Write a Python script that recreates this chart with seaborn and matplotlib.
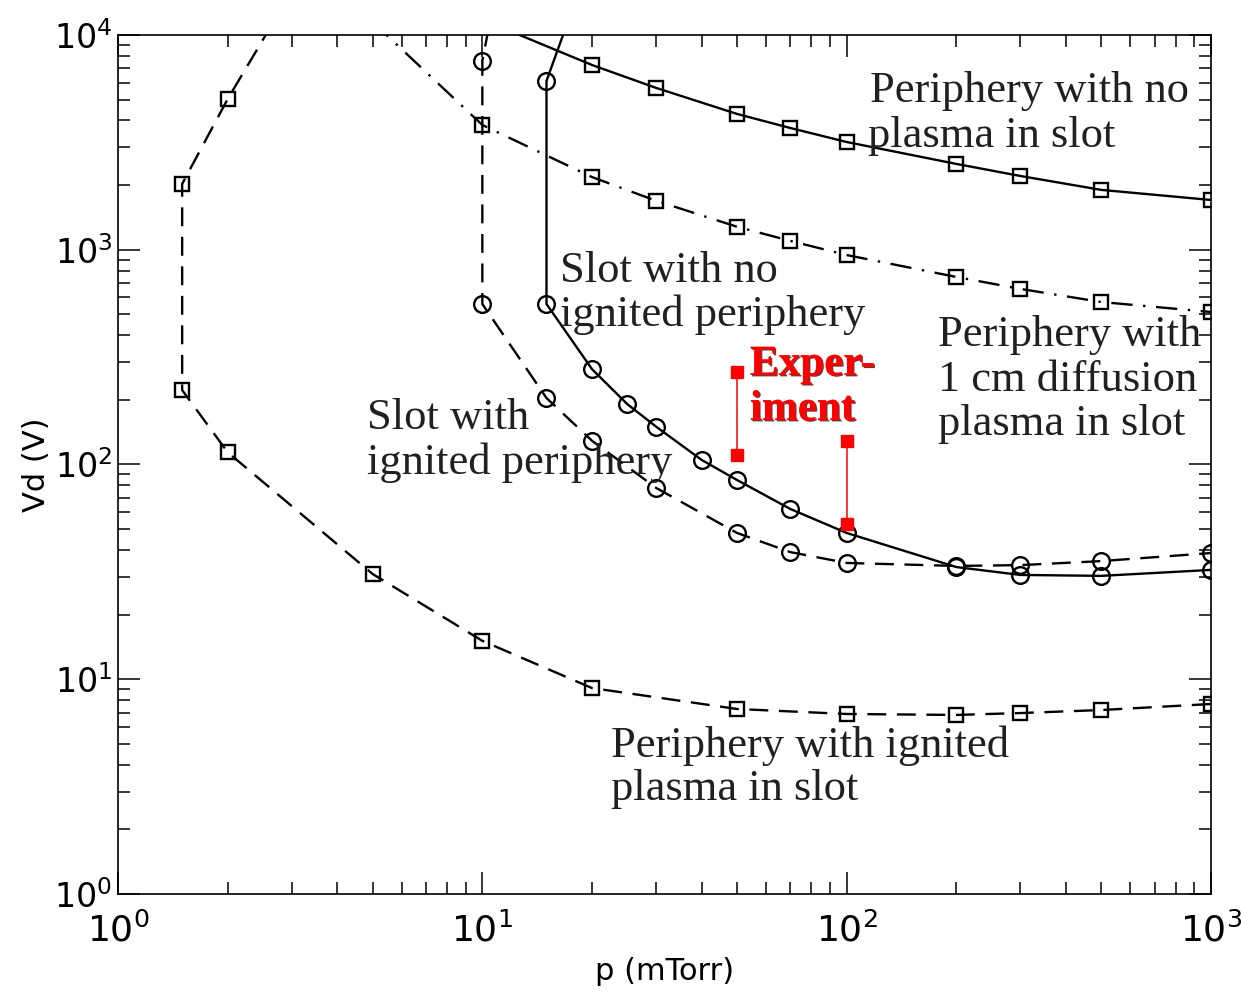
import numpy as np
import pandas as pd
import matplotlib
matplotlib.use("Agg")
import matplotlib.pyplot as plt
import matplotlib.patheffects as pe
import seaborn as sns

# ---------------- data ----------------
# Periphery with no plasma in slot (solid, squares)
p_noplasma = [10, 20, 30, 50, 70, 100, 200, 300, 500, 1000]
v_noplasma = [11800, 7250, 5670, 4290, 3690, 3175, 2510, 2205, 1900, 1705]

# Periphery with 1 cm diffusion plasma in slot (dash-dot, squares)
p_diff = [5, 10, 20, 30, 50, 70, 100, 200, 300, 500, 1000]
v_diff = [11500, 3810, 2180, 1690, 1280, 1100, 945, 747, 657, 571, 513]

# Periphery with ignited plasma in slot (dashed, squares)
p_ign = [3, 2, 1.5, 1.5, 2, 5, 10, 20, 50, 100, 200, 300, 500, 1000]
v_ign = [16000, 5035, 2025, 222, 114, 30.9, 15.1, 9.1, 7.27, 6.89, 6.82, 6.96, 7.19, 7.67]

# Slot with ignited periphery (dashed, circles)
p_slot_ign = [11, 10, 10, 15, 20, 30, 50, 70, 100, 200, 300, 500, 1000]
v_slot_ign = [17500, 7570, 559, 204, 129, 77.8, 48, 39.1, 34.8, 33.7, 34, 35.5, 38.7]

# Slot with no ignited periphery (solid, circles)
p_slot_no = [20, 15, 15, 20, 25, 30, 40, 50, 70, 100, 200, 300, 500, 1000]
v_slot_no = [23700, 6110, 559, 278, 191, 150, 105, 84.7, 62.1, 48.0, 33.3, 30.6, 30.3, 32.3]

# Experiment (red ranges)
p_exp = [50, 100]
v_exp_hi = [270, 129]
v_exp_lo = [111, 52.8]

x_ticks = [1, 10, 100, 1000]
y_ticks = [1, 10, 100, 1000, 10000]

# ---------------- style ----------------
sns.set_style("ticks")
plt.rcParams["font.family"] = ["DejaVu Sans"]
plt.rcParams["mathtext.fontset"] = "dejavusans"
plt.rcParams["text.color"] = "black"
plt.rcParams["axes.labelcolor"] = "black"
plt.rcParams["xtick.color"] = "black"
plt.rcParams["ytick.color"] = "black"

W, H = 1241, 993
fig = plt.figure(figsize=(W / 100, H / 100), dpi=100)
L, R, T, B = 118, 1211, 35, 894
ax = fig.add_axes([L / W, (H - B) / H, (R - L) / W, (B - T) / H])
ax.set_xscale("log")
ax.set_yscale("log")

DASH = (0, (8, 4.5))
DASHDOT = (0, (9, 4.5, 1, 4.5))


def curve(p, v, marker, ms, ls):
    df = pd.DataFrame({"p": p, "V": v})
    sns.lineplot(data=df, x="p", y="V", sort=False, estimator=None, ax=ax,
                 color="black", linewidth=1.7, linestyle=ls,
                 marker=marker, markersize=ms, markerfacecolor="none",
                 markeredgecolor="black", markeredgewidth=1.7)


curve(p_noplasma, v_noplasma, "s", 9.5, "-")
curve(p_diff, v_diff, "s", 9.5, DASHDOT)
curve(p_ign, v_ign, "s", 9.5, DASH)
curve(p_slot_ign, v_slot_ign, "o", 12, DASH)
curve(p_slot_no, v_slot_no, "o", 12, "-")

exp_df = pd.DataFrame({
    "p": p_exp + p_exp,
    "V": v_exp_hi + v_exp_lo,
    "run": list(range(len(p_exp))) * 2,
})
sns.lineplot(data=exp_df, x="p", y="V", units="run", estimator=None, sort=False,
             ax=ax, color="#ff0000", linewidth=1.1, marker="s", markersize=9,
             markerfacecolor="#ff0000", markeredgecolor="#ff0000",
             markeredgewidth=1)

ax.set_xlim(1, 1000)
ax.set_ylim(1, 10000)
ax.set_xticks(x_ticks)
ax.set_yticks(y_ticks)

for s in ax.spines.values():
    s.set_linewidth(1.2)
    s.set_color("black")
    s.set_visible(True)

ax.tick_params(which="both", direction="in", top=True, right=True,
               color="black", labelcolor="black", width=1.1)
ax.tick_params(which="major", length=16)
ax.tick_params(axis="x", which="major", pad=13, labelsize=26)
ax.tick_params(axis="y", which="major", pad=4, labelsize=24)
ax.tick_params(which="minor", length=8.5)

ax.set_xlabel("p (mTorr)", fontsize=22, labelpad=6, color="black")
ax.set_ylabel("Vd (V)", fontsize=22, labelpad=2, color="black")

# ---------------- annotations ----------------
def fx(px):
    return (px - L) / (R - L)


def fy(py):
    return (B - py) / (B - T)


serif = ["Liberation Serif", "DejaVu Serif"]
tcol = "#231f20"
labels = [
    (870, 101.7, "Periphery with no"),
    (868, 146.7, "plasma in slot"),
    (560, 281.7, "Slot with no"),
    (560, 326.0, "ignited periphery"),
    (938, 345.7, "Periphery with"),
    (938, 391.0, "1 cm diffusion"),
    (938, 435.0, "plasma in slot"),
    (367, 429.3, "Slot with"),
    (367, 474.0, "ignited periphery"),
    (611, 756.7, "Periphery with ignited"),
    (611, 800.0, "plasma in slot"),
]
for px, py, s in labels:
    ax.text(fx(px), fy(py), s, transform=ax.transAxes, ha="left",
            va="baseline", fontsize=32, family=serif, color=tcol)

for px, py, s in [(750, 375, "Exper-"), (750, 420, "iment")]:
    ax.text(fx(px), fy(py), s, transform=ax.transAxes, ha="left",
            va="baseline", fontsize=31, family=serif, color="#ff0000",
            fontweight="bold",
            path_effects=[pe.withSimplePatchShadow(offset=(1, -1),
                                                   shadow_rgbFace="#600000",
                                                   alpha=0.8),
                          pe.Normal()])

fig.savefig("out.png", dpi=100, facecolor="white")
